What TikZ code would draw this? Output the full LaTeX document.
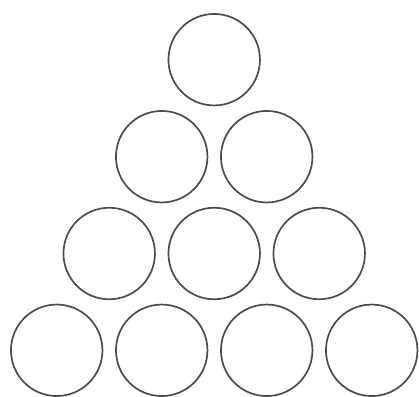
\documentclass[tikz,border=0pt]{standalone}
\begin{document}
\begin{tikzpicture}[x=1pt,y=-1pt,
        ball/.style={circle, draw=black!70, line width=1.7pt, minimum size=91.5pt, inner sep=0pt}]
        \useasboundingbox (0,0) rectangle (419,396);
        % Coordinates
        \coordinate (A) at (214.2, 59.7);
        \coordinate (B) at (161.7, 156.7);
        \coordinate (C) at (266.7, 156.7);
        \coordinate (D) at (109.2, 253.5);
        \coordinate (E) at (214.2, 253.5);
        \coordinate (F) at (319.2, 253.5);
        \coordinate (G) at (56.7, 350.3);
        \coordinate (H) at (161.7, 350.3);
        \coordinate (I) at (266.7, 350.3);
        \coordinate (J) at (371.7, 350.3);

        % Drawing
        \node[ball] (a) at (A) {};
        \node[ball] (b) at (B) {};
        \node[ball] (c) at (C) {};
        \node[ball] (d) at (D) {};
        \node[ball] (e) at (E) {};
        \node[ball] (f) at (F) {};
        \node[ball] (g) at (G) {};
        \node[ball] (h) at (H) {};
        \node[ball] (i) at (I) {};
        \node[ball] (j) at (J) {};
\end{tikzpicture}
\end{document}
